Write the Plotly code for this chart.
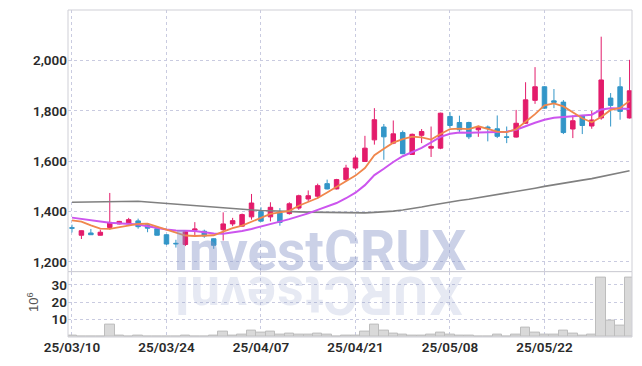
import plotly.graph_objects as go

dates = [
    "2025-03-10", "2025-03-11", "2025-03-12", "2025-03-13", "2025-03-14",
    "2025-03-17", "2025-03-18", "2025-03-19", "2025-03-20", "2025-03-21",
    "2025-03-24", "2025-03-25", "2025-03-26", "2025-03-27", "2025-03-28",
    "2025-03-31", "2025-04-01", "2025-04-02", "2025-04-03", "2025-04-04",
    "2025-04-07", "2025-04-08", "2025-04-09", "2025-04-10", "2025-04-11",
    "2025-04-14", "2025-04-15", "2025-04-16", "2025-04-17", "2025-04-18",
    "2025-04-21", "2025-04-22", "2025-04-23", "2025-04-24", "2025-04-25",
    "2025-04-28", "2025-04-29", "2025-04-30", "2025-05-02", "2025-05-07",
    "2025-05-08", "2025-05-09", "2025-05-12", "2025-05-13", "2025-05-14",
    "2025-05-15", "2025-05-16", "2025-05-19", "2025-05-20", "2025-05-21",
    "2025-05-22", "2025-05-23", "2025-05-26", "2025-05-27", "2025-05-28",
    "2025-05-29", "2025-05-30", "2025-06-02", "2025-06-04", "2025-06-05",
]

opens = [1336, 1306, 1315, 1306, 1337, 1351, 1352, 1363, 1348, 1332,
         1308, 1274, 1269, 1326, 1322, 1292, 1328, 1351, 1342, 1379,
         1400, 1379, 1394, 1392, 1414, 1450, 1461, 1511, 1490, 1527,
         1573, 1599, 1685, 1736, 1672, 1714, 1627, 1703, 1652, 1652,
         1778, 1754, 1754, 1725, 1736, 1729, 1697, 1696, 1751, 1842,
         1896, 1840, 1835, 1728, 1782, 1740, 1772, 1851, 1896, 1772]
highs = [1348, 1325, 1331, 1328, 1474, 1363, 1375, 1372, 1350, 1333,
         1310, 1288, 1323, 1358, 1328, 1294, 1397, 1375, 1392, 1470,
         1417, 1437, 1414, 1437, 1467, 1484, 1511, 1527, 1530, 1586,
         1622, 1701, 1811, 1748, 1762, 1722, 1710, 1728, 1738, 1793,
         1795, 1781, 1757, 1741, 1742, 1782, 1738, 1804, 1914, 1974,
         1898, 1887, 1843, 1782, 1784, 1800, 2095, 1871, 1934, 2003]
lows = [1317, 1291, 1307, 1305, 1328, 1349, 1349, 1332, 1318, 1305,
        1267, 1257, 1263, 1300, 1296, 1252, 1285, 1342, 1340, 1368,
        1360, 1361, 1344, 1388, 1407, 1441, 1450, 1488, 1488, 1520,
        1566, 1597, 1666, 1606, 1668, 1628, 1625, 1672, 1617, 1648,
        1732, 1714, 1688, 1697, 1679, 1692, 1672, 1694, 1748, 1828,
        1809, 1811, 1708, 1692, 1708, 1729, 1765, 1738, 1765, 1770]
closes = [1334, 1324, 1308, 1318, 1357, 1361, 1368, 1340, 1334, 1306,
          1271, 1272, 1320, 1331, 1303, 1266, 1351, 1364, 1388, 1434,
          1362, 1417, 1357, 1431, 1463, 1463, 1503, 1490, 1527, 1573,
          1613, 1652, 1765, 1697, 1709, 1630, 1707, 1718, 1659, 1791,
          1742, 1725, 1697, 1736, 1730, 1699, 1695, 1751, 1844, 1896,
          1811, 1834, 1714, 1761, 1742, 1764, 1923, 1822, 1798, 1880]

ma_short = [1365, 1360, 1345, 1332, 1331, 1337, 1344, 1351, 1352, 1341,
            1328, 1318, 1305, 1303, 1303, 1306, 1320, 1334, 1344, 1360,
            1378, 1391, 1397, 1403, 1423, 1437, 1454, 1476, 1498, 1520,
            1543, 1573, 1624, 1650, 1674, 1688, 1698, 1695, 1686, 1708,
            1728, 1730, 1728, 1739, 1728, 1718, 1716, 1727, 1757, 1787,
            1822, 1830, 1818, 1795, 1771, 1755, 1776, 1804, 1812, 1840]
ma_mid = [1376, 1372, 1367, 1361, 1356, 1353, 1352, 1349, 1342, 1335,
          1329, 1325, 1324, 1323, 1318, 1313, 1312, 1317, 1323, 1331,
          1340, 1348, 1360, 1370, 1381, 1393, 1407, 1420, 1434, 1453,
          1475, 1505, 1545, 1570, 1597, 1620, 1637, 1653, 1675, 1697,
          1709, 1714, 1713, 1714, 1717, 1718, 1717, 1725, 1740, 1753,
          1765, 1773, 1776, 1779, 1781, 1785, 1806, 1811, 1810, 1808]
ma_long = [1437, 1438, 1439, 1440, 1441, 1442, 1442, 1441, 1438, 1435,
           1432, 1430, 1427, 1424, 1420, 1416, 1413, 1410, 1408, 1406,
           1404, 1403, 1401, 1400, 1399, 1398, 1397, 1396, 1395, 1395,
           1394, 1395, 1397, 1399, 1402, 1406, 1411, 1418, 1425, 1432,
           1439, 1444, 1449, 1455, 1461, 1467, 1473, 1479, 1486, 1493,
           1500, 1507, 1513, 1519, 1525, 1531, 1538, 1545, 1553, 1562]

volume = [0.8, 0.3, 0.3, 0.3, 7.2, 0.6, 0.5, 0.6, 0.2, 0.4,
          0.5, 0.5, 0.6, 0.5, 0.3, 0.9, 3.4, 0.9, 1.4, 3.7,
          2.5, 3.0, 1.3, 1.8, 1.4, 1.4, 1.9, 1.4, 0.5, 1.0,
          1.0, 3.0, 7.2, 3.7, 1.9, 1.1, 1.0, 1.0, 1.5, 2.4,
          1.3, 0.7, 1.0, 0.5, 0.5, 1.1, 0.4, 1.3, 5.3, 2.8,
          1.5, 1.5, 3.7, 2.0, 1.0, 1.1, 34.2, 9.5, 6.6, 34.2]

tick_dates = ["2025-03-10", "2025-03-24", "2025-04-07", "2025-04-21", "2025-05-08", "2025-05-22"]
tick_labels = ["25/03/10", "25/03/24", "25/04/07", "25/04/21", "25/05/08", "25/05/22"]
price_ticks = [1200, 1400, 1600, 1800, 2000]
volume_ticks = [10, 20, 30]

watermark = "InvestCRUX"
watermark_center_px = 319
reflection_px = [182, 205, 234, 262, 291, 314, 341, 376, 411, 446]

UP = "#e31c6b"
DOWN = "#3396c8"
GRID = "#c9cbe0"
TICKFONT = dict(family="Roboto, Liberation Sans, sans-serif", size=13.5, color="#2a2a2a", weight=600)
WMFONT = "Roboto, Liberation Sans, sans-serif"

fig = go.Figure()
fig.add_trace(go.Scatter(x=dates, y=ma_long, mode="lines", line=dict(color="#808080", width=1.6),
                         xaxis="x", yaxis="y", hoverinfo="skip", showlegend=False))
fig.add_trace(go.Candlestick(
    x=dates, open=opens, high=highs, low=lows, close=closes,
    increasing=dict(line=dict(color=UP, width=1), fillcolor=UP),
    decreasing=dict(line=dict(color=DOWN, width=1), fillcolor=DOWN),
    xaxis="x", yaxis="y", showlegend=False, hoverinfo="skip"))
fig.add_trace(go.Scatter(x=dates, y=ma_mid, mode="lines", line=dict(color="#cc55ee", width=2),
                         xaxis="x", yaxis="y", hoverinfo="skip", showlegend=False))
fig.add_trace(go.Scatter(x=dates, y=ma_short, mode="lines", line=dict(color="#f0874c", width=1.8),
                         xaxis="x", yaxis="y", hoverinfo="skip", showlegend=False))
fig.add_trace(go.Bar(x=dates, y=volume, xaxis="x2", yaxis="y2",
                     marker=dict(color="#d9d9d9", line=dict(color="#bdbdbd", width=1)),
                     hoverinfo="skip", showlegend=False))

W, H = 642, 366
ML, MR, MT, MB = 68, 10, 10, 29
PW, PH = W - ML - MR, H - MT - MB

def px_x(x):
    return (x - ML) / PW

def px_y(y):
    return (H - MB - y) / PH

annotations = [dict(text="<b>%s</b>" % watermark, x=px_x(watermark_center_px), y=px_y(251),
                    xref="paper", yref="paper", xanchor="center", yanchor="middle", showarrow=False,
                    borderpad=0, font=dict(family=WMFONT, size=55, color="rgba(130,145,197,0.42)"))]
for ch, xp in zip(watermark, reflection_px):
    annotations.append(dict(text="<b>%s</b>" % ch, x=px_x(xp), y=px_y(295), xref="paper", yref="paper",
                            xanchor="center", yanchor="middle", showarrow=False, textangle=180,
                            borderpad=0,
                            font=dict(family=WMFONT, size=53, color="rgba(130,145,197,0.2)")))
annotations.append(dict(text="10<sup>6</sup>", x=px_x(33), y=px_y(302), xref="paper", yref="paper",
                        xanchor="center", yanchor="middle", showarrow=False, textangle=-90,
                        font=dict(family="Liberation Sans, Arial, sans-serif", size=13, color="#555555")))

shapes = [
    dict(type="rect", xref="paper", yref="paper", x0=0, x1=1, y0=0.2, y1=1,
         line=dict(color="#cfcfd6", width=1), layer="above"),
    dict(type="rect", xref="paper", yref="paper", x0=0, x1=1, y0=0, y1=0.2,
         line=dict(color="#cfcfd6", width=1), layer="above"),
]

xrange = [-0.42, 59.26]
fig.update_layout(
    width=W, height=H,
    margin=dict(l=ML, r=MR, t=MT, b=MB, autoexpand=False),
    paper_bgcolor="white", plot_bgcolor="white",
    showlegend=False, bargap=0, boxgap=0.32,
    xaxis=dict(domain=[0, 1], anchor="y", type="category", range=xrange, automargin=False,
               tickvals=tick_dates, showticklabels=False, showgrid=True, gridcolor=GRID, griddash="dot",
               gridwidth=1, zeroline=False, showline=False, rangeslider=dict(visible=False)),
    xaxis2=dict(domain=[0, 1], anchor="y2", type="category", range=xrange, matches="x", automargin=False,
                tickvals=tick_dates, ticktext=tick_labels, showgrid=True, gridcolor=GRID, griddash="dot",
                gridwidth=1, zeroline=False, showline=False, tickfont=TICKFONT, ticks=""),
    yaxis=dict(domain=[0.2, 1], anchor="x", range=[1161.5, 2201], tickvals=price_ticks, tickformat=",d",
               showgrid=True, gridcolor=GRID, griddash="dot", zeroline=False, showline=False, automargin=False,
               tickfont=TICKFONT, ticks=""),
    yaxis2=dict(domain=[0, 0.2], anchor="x2", range=[0, 37.7], tickvals=volume_ticks, automargin=False,
                showgrid=True, gridcolor=GRID, griddash="dot", zeroline=False, showline=False,
                tickfont=TICKFONT, ticks=""),
    annotations=annotations,
    shapes=shapes,
)

fig.write_html("out.html", config={"displayModeBar": False},
               post_script="document.body.style.margin='0';document.body.style.padding='0';")
